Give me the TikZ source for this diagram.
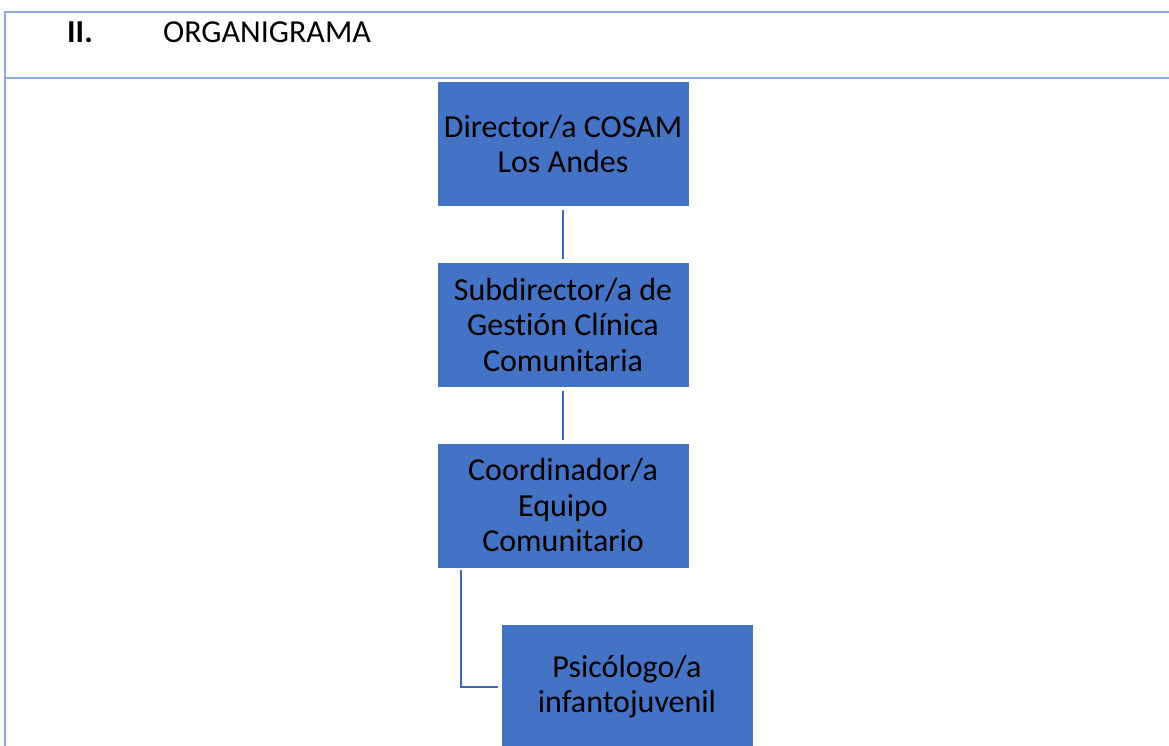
\documentclass[tikz,border=0pt]{standalone}
\usepackage{fontspec}
\setmainfont{Carlito}[Ligatures=CommonOff]
\definecolor{boxblue}{HTML}{4472C4}
\definecolor{linkblue}{HTML}{3F69B8}
\definecolor{tableline}{HTML}{8EAADB}
\begin{document}
\begin{tikzpicture}[x=1pt,y=-1pt,
  orgbox/.style={draw=white,line width=0.8pt,fill=boxblue,minimum width=252pt,minimum height=125pt,
    align=center,inner sep=0pt,font=\fontsize{32}{35.5}\selectfont,text=black},
  link/.style={draw=linkblue,line width=2.5pt},
  rule/.style={draw=tableline}]
\useasboundingbox (0,0) rectangle (1169,746);
\clip (0,0) rectangle (1169,746);
% table frame
\draw[rule,line width=1.5pt] (5,12) -- (1169,12);
\draw[rule,line width=2.8pt] (5,78) -- (1169,78);
\draw[rule,line width=2.5pt] (5,11.3) -- (5,746);
% header
\node[anchor=base west,inner sep=0pt,font=\fontsize{32}{35}\selectfont\bfseries] (num) at (67,43) {II.};
\node[anchor=base west,inner sep=0pt,font=\fontsize{32}{35}\selectfont] (title) at (163,43) {ORGANIGRAMA};
% boxes
\node[orgbox] (dir) at (563,144) {Director/a COSAM\\Los Andes};
\node[orgbox] (sub) at (563,325) {Subdirector/a de\\Gestión Clínica\\Comunitaria};
\node[orgbox] (coo) at (563,505.5) {Coordinador/a\\Equipo\\Comunitario};
\node[orgbox] (psi) at (627,686.5) {Psicólogo/a\\infantojuvenil};
% connectors
\draw[link] ([yshift=-3pt]dir.south) -- ([yshift=3pt]sub.north);
\draw[link] ([yshift=-3pt]sub.south) -- ([yshift=3pt]coo.north);
\coordinate (elbow) at (461,687);
\draw[link] ([xshift=-102pt,yshift=-2pt]coo.south) -- (elbow) -- ([xshift=-3pt]psi.west |- elbow);
\end{tikzpicture}
\end{document}
